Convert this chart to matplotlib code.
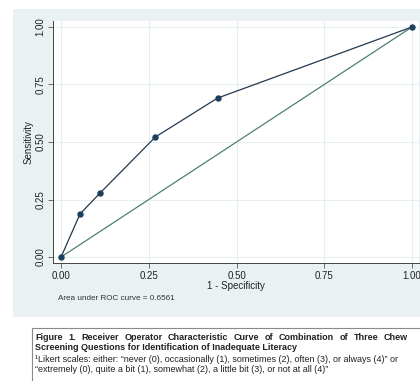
import matplotlib
matplotlib.use('Agg')
import matplotlib.pyplot as plt
from matplotlib.patches import Rectangle

plt.rcParams['font.family'] = ['Liberation Sans', 'DejaVu Sans']

# ROC points
fpr = [0.0, 0.054, 0.111, 0.269, 0.446, 1.0]
tpr = [0.0, 0.187, 0.278, 0.522, 0.691, 1.0]
ref = [0.0, 1.0]
ticks = [0.0, 0.25, 0.5, 0.75, 1.0]
tick_labels = ['0.00', '0.25', '0.50', '0.75', '1.00']
auc_text = 'Area under ROC curve = 0.6561'

caption = [
    ('Figure 1. Receiver Operator Characteristic Curve of Combination of Three Chew', 'bold', True),
    ('Screening Questions for Identification of Inadequate Literacy', 'bold', False),
    ('\u00b9Likert scales: either: \u201cnever (0), occasionally (1), sometimes (2), often (3), or always (4)\u201d or', 'normal', False),
    ('\u201cextremely (0), quite a bit (1), somewhat (2), a little bit (3), or not at all (4)\u201d', 'normal', False),
]

W, H = 420, 381
fig = plt.figure(figsize=(W/100, H/100), dpi=100)
fig.patch.set_facecolor('white')

# stata-like graph region
panel = Rectangle((13/W, 1-317/H), 1.0, (317-9)/H, transform=fig.transFigure,
                  facecolor='#eaf1f3', edgecolor='none', zorder=-5)
fig.patches.append(panel)

# caption box
box = Rectangle((32/W, -0.1), 1.0, 0.1 + (H-328)/H, transform=fig.transFigure,
                facecolor='white', edgecolor='#8a8a8a', lw=0.8, zorder=-5)
fig.patches.append(box)

ax = fig.add_axes([53/W, 1-263/H, (419-53)/W, (263-21)/H])
ax.set_zorder(2)
ax.set_facecolor('white')
ax.plot(ref, ref, color='#4e7f72', lw=0.9, zorder=2)
ax.plot(fpr, tpr, color='#23384e', lw=0.9, marker='o', ms=3.6,
        mfc='#1d3f5e', mec='#1d3f5e', zorder=3)

ax.set_xlim(-0.023, 1.02)
ax.set_ylim(-0.026, 1.026)
ax.set_xticks(ticks)
ax.set_xticklabels(tick_labels)
ax.set_yticks(ticks)
ax.set_yticklabels(tick_labels, rotation=90, va='center')
ax.tick_params(labelsize=7, length=3.5, width=0.6, color='#555555', labelcolor='#222222', pad=2)
ax.grid(color='#e6eef0', lw=0.8)
ax.set_axisbelow(True)
for s in ['top', 'right']:
    ax.spines[s].set_visible(False)
for s in ['left', 'bottom']:
    ax.spines[s].set_color('#444444')
    ax.spines[s].set_linewidth(0.7)

ax.set_ylabel('Sensitivity', fontsize=7, color='#222222', labelpad=1)
ax.set_xlabel('1 - Specificity', fontsize=7, color='#222222', labelpad=0)
fig.text(116/W, 1-298/H, auc_text, fontsize=5.9, color='#333333', ha='center', va='center')

# caption, first line justified
fig.canvas.draw()
r = fig.canvas.get_renderer()
x0, x1 = 35, 408
ys = [337, 348, 359, 369]
for (line, weight, justify), y in zip(caption, ys):
    fs = 6.5
    if not justify:
        fig.text(x0/W, 1-y/H, line, fontsize=fs, fontweight=weight, color='#222222',
                 ha='left', va='center')
        continue
    words = line.split(' ')
    txts = [fig.text(0, 1-y/H, w, fontsize=fs, fontweight=weight, color='#222222',
                     ha='left', va='center') for w in words]
    widths = [t.get_window_extent(r).width for t in txts]
    gap = (x1 - x0 - sum(widths)) / (len(words) - 1)
    x = x0
    for t, wd in zip(txts, widths):
        t.set_x(x/W)
        x += wd + gap

fig.savefig('out.png', dpi=100)
